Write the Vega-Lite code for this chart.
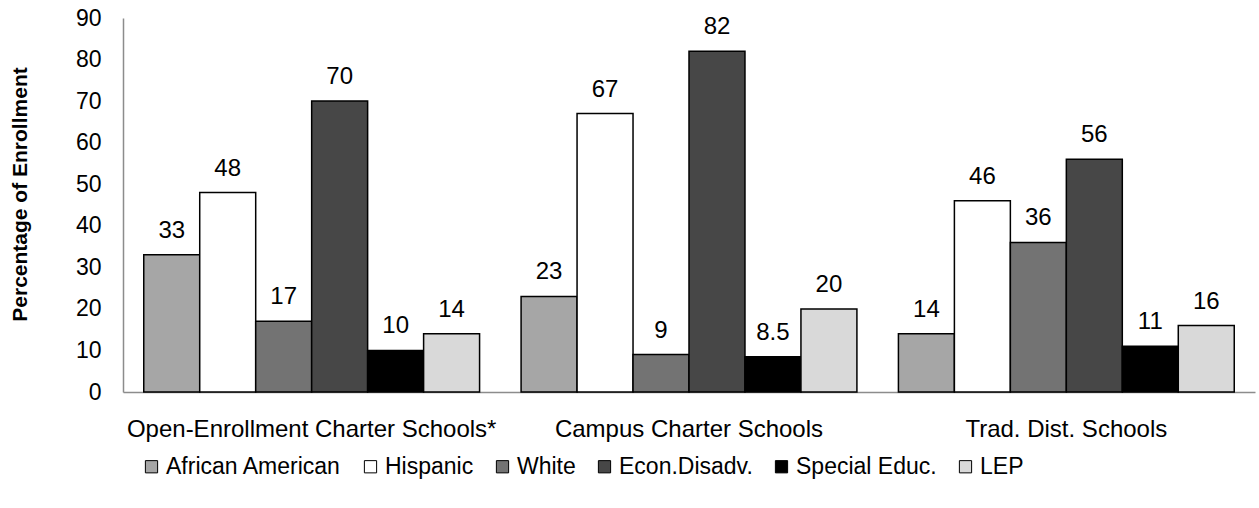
{
  "$schema": "https://vega.github.io/schema/vega-lite/v6.json",
  "width": 1132,
  "height": 374,
  "autosize": "none",
  "padding": {"left": 123, "top": 18, "right": 4, "bottom": 116},
  "background": "white",
  "config": {
    "font": "Liberation Sans",
    "view": {"stroke": null}
  },
  "data": {
    "values": [
      {"school": "Open-Enrollment Charter Schools*", "group": "African American", "pct": 33, "label": "33"},
      {"school": "Open-Enrollment Charter Schools*", "group": "Hispanic", "pct": 48, "label": "48"},
      {"school": "Open-Enrollment Charter Schools*", "group": "White", "pct": 17, "label": "17"},
      {"school": "Open-Enrollment Charter Schools*", "group": "Econ.Disadv.", "pct": 70, "label": "70"},
      {"school": "Open-Enrollment Charter Schools*", "group": "Special Educ.", "pct": 10, "label": "10"},
      {"school": "Open-Enrollment Charter Schools*", "group": "LEP", "pct": 14, "label": "14"},
      {"school": "Campus Charter Schools", "group": "African American", "pct": 23, "label": "23"},
      {"school": "Campus Charter Schools", "group": "Hispanic", "pct": 67, "label": "67"},
      {"school": "Campus Charter Schools", "group": "White", "pct": 9, "label": "9"},
      {"school": "Campus Charter Schools", "group": "Econ.Disadv.", "pct": 82, "label": "82"},
      {"school": "Campus Charter Schools", "group": "Special Educ.", "pct": 8.5, "label": "8.5"},
      {"school": "Campus Charter Schools", "group": "LEP", "pct": 20, "label": "20"},
      {"school": "Trad. Dist. Schools", "group": "African American", "pct": 14, "label": "14"},
      {"school": "Trad. Dist. Schools", "group": "Hispanic", "pct": 46, "label": "46"},
      {"school": "Trad. Dist. Schools", "group": "White", "pct": 36, "label": "36"},
      {"school": "Trad. Dist. Schools", "group": "Econ.Disadv.", "pct": 56, "label": "56"},
      {"school": "Trad. Dist. Schools", "group": "Special Educ.", "pct": 11, "label": "11"},
      {"school": "Trad. Dist. Schools", "group": "LEP", "pct": 16, "label": "16"}
    ]
  },
  "encoding": {
    "x": {
      "field": "school",
      "type": "nominal",
      "sort": ["Open-Enrollment Charter Schools*", "Campus Charter Schools", "Trad. Dist. Schools"],
      "scale": {"paddingInner": 0.11, "paddingOuter": 0.055},
      "axis": {
        "title": null,
        "labelAngle": 0,
        "ticks": false,
        "domainColor": "#8c8c8c",
        "domainWidth": 1.5,
        "labelFontSize": 24,
        "labelColor": "#000000",
        "labelPadding": 25,
        "labelLimit": 500
      }
    },
    "xOffset": {
      "field": "group",
      "type": "nominal",
      "sort": ["African American", "Hispanic", "White", "Econ.Disadv.", "Special Educ.", "LEP"],
      "scale": {"paddingInner": 0, "paddingOuter": 0}
    },
    "y": {
      "field": "pct",
      "type": "quantitative",
      "scale": {"domain": [0, 90], "nice": false},
      "axis": {
        "title": "Percentage of Enrollment",
        "titleFontSize": 21,
        "titleFontWeight": "bold",
        "titleColor": "#000000",
        "titlePadding": 45,
        "titleY": 176,
        "values": [0, 10, 20, 30, 40, 50, 60, 70, 80, 90],
        "grid": false,
        "ticks": false,
        "domainColor": "#8c8c8c",
        "domainWidth": 1.5,
        "labelFontSize": 23,
        "labelColor": "#000000",
        "labelPadding": 22
      }
    }
  },
  "layer": [
    {
      "mark": {"type": "bar", "stroke": "#000000", "strokeWidth": 1.5},
      "encoding": {
        "color": {
          "field": "group",
          "type": "nominal",
          "sort": ["African American", "Hispanic", "White", "Econ.Disadv.", "Special Educ.", "LEP"],
          "scale": {
            "domain": ["African American", "Hispanic", "White", "Econ.Disadv.", "Special Educ.", "LEP"],
            "range": ["#a6a6a6", "#ffffff", "#737373", "#474747", "#000000", "#d9d9d9"]
          },
          "legend": {
            "title": null,
            "orient": "none",
            "legendX": 17,
            "legendY": 437,
            "direction": "horizontal",
            "symbolType": "square",
            "symbolSize": 150,
            "symbolStrokeColor": "#000000",
            "symbolStrokeWidth": 1,
            "symbolOpacity": 1,
            "labelFontSize": 23,
            "labelColor": "#000000",
            "labelOffset": 3,
            "columnPadding": 17,
            "labelLimit": 400
          }
        }
      }
    },
    {
      "mark": {"type": "text", "baseline": "alphabetic", "dy": -17, "fontSize": 24, "color": "#000000"},
      "encoding": {
        "text": {"field": "label"}
      }
    }
  ]
}
